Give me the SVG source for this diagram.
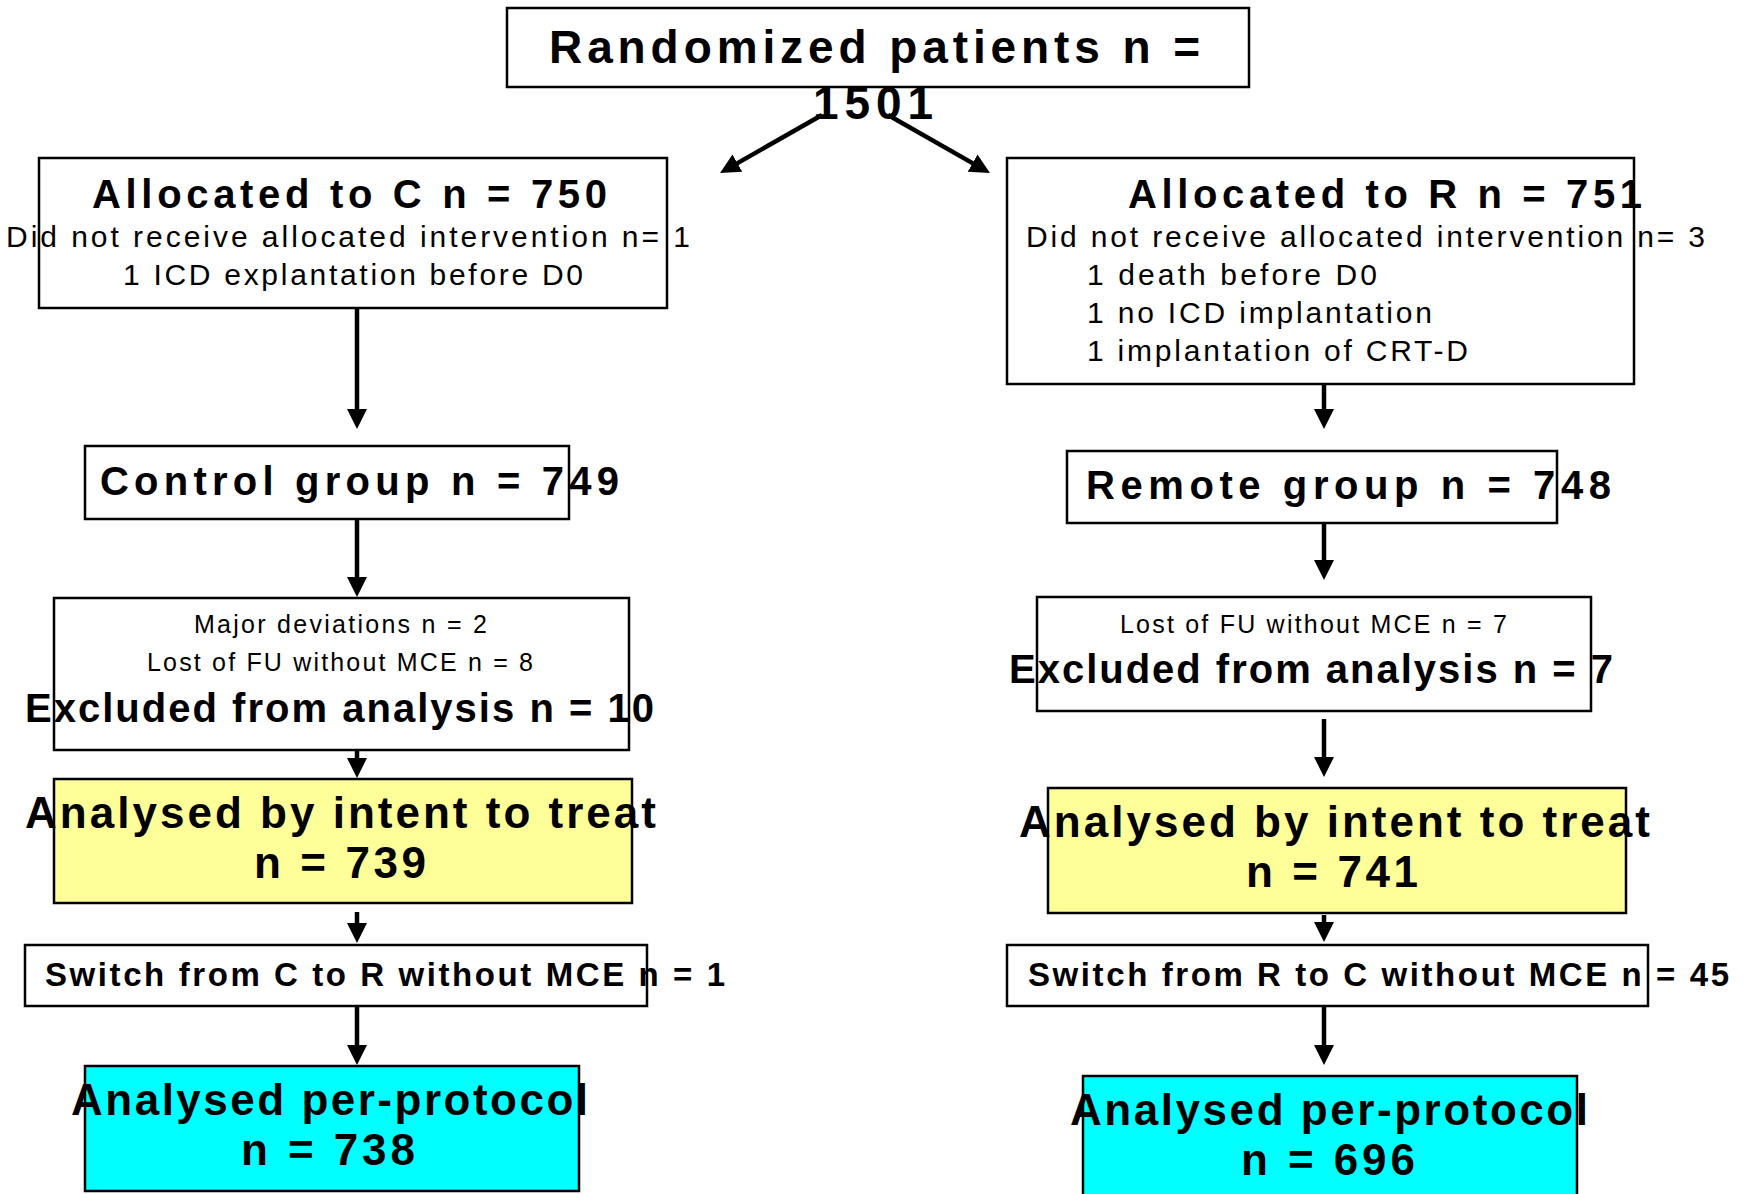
<svg xmlns="http://www.w3.org/2000/svg" width="1748" height="1194" viewBox="0 0 1748 1194">
<style>
.box{fill:#fff;stroke:#000;stroke-width:2.5}
.yel{fill:#FFFF99;stroke:#000;stroke-width:2.5}
.cyan{fill:#00FFFF;stroke:#000;stroke-width:2.5}
.b{font-family:"Liberation Sans",Arial,sans-serif;font-weight:bold;fill:#000}
.r{font-family:"Liberation Sans",Arial,sans-serif;fill:#000}
.ar{stroke:#000;stroke-width:4.5;fill:none;marker-end:url(#ah)}
</style>
<defs>
<marker id="ah" markerUnits="userSpaceOnUse" markerWidth="22" markerHeight="22" refX="9" refY="10" orient="auto">
<path d="M0,0 L20,10 L0,20 z" fill="#000"/>
</marker>
</defs>
<rect width="1748" height="1194" fill="#fff"/>

<g id="connectors">
<line class="ar" x1="822" y1="115" x2="729.6" y2="167.6"/>
<line class="ar" x1="888" y1="115" x2="980.4" y2="167.6"/>
<line class="ar" x1="357" y1="309" x2="357" y2="418"/>
<line class="ar" x1="357" y1="520" x2="357" y2="586"/>
<line class="ar" x1="357" y1="751" x2="357" y2="767"/>
<line class="ar" x1="357" y1="912" x2="357" y2="932"/>
<line class="ar" x1="357" y1="1006" x2="357" y2="1054"/>
<line class="ar" x1="1324" y1="385" x2="1324" y2="418"/>
<line class="ar" x1="1324" y1="524" x2="1324" y2="569"/>
<line class="ar" x1="1324" y1="719" x2="1324" y2="766"/>
<line class="ar" x1="1324" y1="915" x2="1324" y2="931"/>
<line class="ar" x1="1324" y1="1006" x2="1324" y2="1054"/>
</g>

<g id="randomized">
<rect class="box" x="507" y="8" width="742" height="79"/>
<text class="b" x="549" y="63" font-size="46" textLength="651" lengthAdjust="spacing">Randomized patients n =</text>
<text class="b" x="813" y="119" font-size="46" textLength="120" lengthAdjust="spacing">1501</text>
</g>

<g id="allocC">
<rect class="box" x="39" y="158" width="628" height="150"/>
<text class="b" x="92" y="208" font-size="40" textLength="515" lengthAdjust="spacing">Allocated to C n = 750</text>
<text class="r" x="6" y="247" font-size="30" textLength="684" lengthAdjust="spacing">Did not receive allocated intervention n= 1</text>
<text class="r" x="123" y="285" font-size="30" textLength="460" lengthAdjust="spacing">1 ICD explantation before D0</text>
</g>

<g id="allocR">
<rect class="box" x="1007" y="158" width="627" height="226"/>
<text class="b" x="1128" y="208" font-size="40" textLength="514" lengthAdjust="spacing">Allocated to R n = 751</text>
<text class="r" x="1026" y="247" font-size="30" textLength="679" lengthAdjust="spacing">Did not receive allocated intervention n= 3</text>
<text class="r" x="1087" y="285" font-size="30" textLength="290" lengthAdjust="spacing">1 death before D0</text>
<text class="r" x="1087" y="323" font-size="30" textLength="345" lengthAdjust="spacing">1 no ICD implantation</text>
<text class="r" x="1087" y="361" font-size="30" textLength="381" lengthAdjust="spacing">1 implantation of CRT-D</text>
</g>

<g id="control">
<rect class="box" x="85" y="446" width="484" height="73"/>
<text class="b" x="100" y="495" font-size="40" textLength="519" lengthAdjust="spacing">Control group n = 749</text>
</g>

<g id="remote">
<rect class="box" x="1067" y="451" width="490" height="72"/>
<text class="b" x="1086" y="499" font-size="40" textLength="525" lengthAdjust="spacing">Remote group n = 748</text>
</g>

<g id="exclC">
<rect class="box" x="54" y="598" width="575" height="152"/>
<text class="r" x="194" y="633" font-size="25" textLength="293" lengthAdjust="spacing">Major deviations n = 2</text>
<text class="r" x="147" y="671" font-size="25" textLength="386" lengthAdjust="spacing">Lost of FU without MCE n = 8</text>
<text class="b" x="25" y="722" font-size="40" textLength="629" lengthAdjust="spacing">Excluded from analysis n = 10</text>
</g>

<g id="exclR">
<rect class="box" x="1037" y="597" width="554" height="114"/>
<text class="r" x="1120" y="633" font-size="25" textLength="387" lengthAdjust="spacing">Lost of FU without MCE n = 7</text>
<text class="b" x="1009" y="683" font-size="40" textLength="604" lengthAdjust="spacing">Excluded from analysis n = 7</text>
</g>

<g id="ittC">
<rect class="yel" x="54" y="779" width="578" height="124"/>
<text class="b" x="25" y="828" font-size="44" textLength="631" lengthAdjust="spacing">Analysed by intent to treat</text>
<text class="b" x="254" y="878" font-size="44" textLength="172" lengthAdjust="spacing">n = 739</text>
</g>

<g id="ittR">
<rect class="yel" x="1048" y="788" width="578" height="125"/>
<text class="b" x="1019" y="837" font-size="44" textLength="631" lengthAdjust="spacing">Analysed by intent to treat</text>
<text class="b" x="1246" y="887" font-size="44" textLength="172" lengthAdjust="spacing">n = 741</text>
</g>

<g id="switchC">
<rect class="box" x="25" y="945" width="622" height="61"/>
<text class="b" x="45" y="986" font-size="33" textLength="680" lengthAdjust="spacing">Switch from C to R without MCE n = 1</text>
</g>

<g id="switchR">
<rect class="box" x="1007" y="945" width="641" height="61"/>
<text class="b" x="1028" y="986" font-size="33" textLength="701" lengthAdjust="spacing">Switch from R to C without MCE n = 45</text>
</g>

<g id="ppC">
<rect class="cyan" x="85" y="1066" width="494" height="125"/>
<text class="b" x="71" y="1115" font-size="44" textLength="517" lengthAdjust="spacing">Analysed per-protocol</text>
<text class="b" x="241" y="1165" font-size="44" textLength="174" lengthAdjust="spacing">n = 738</text>
</g>

<g id="ppR">
<rect class="cyan" x="1083" y="1076" width="494" height="125"/>
<text class="b" x="1070" y="1125" font-size="44" textLength="518" lengthAdjust="spacing">Analysed per-protocol</text>
<text class="b" x="1241" y="1175" font-size="44" textLength="174" lengthAdjust="spacing">n = 696</text>
</g>
</svg>
